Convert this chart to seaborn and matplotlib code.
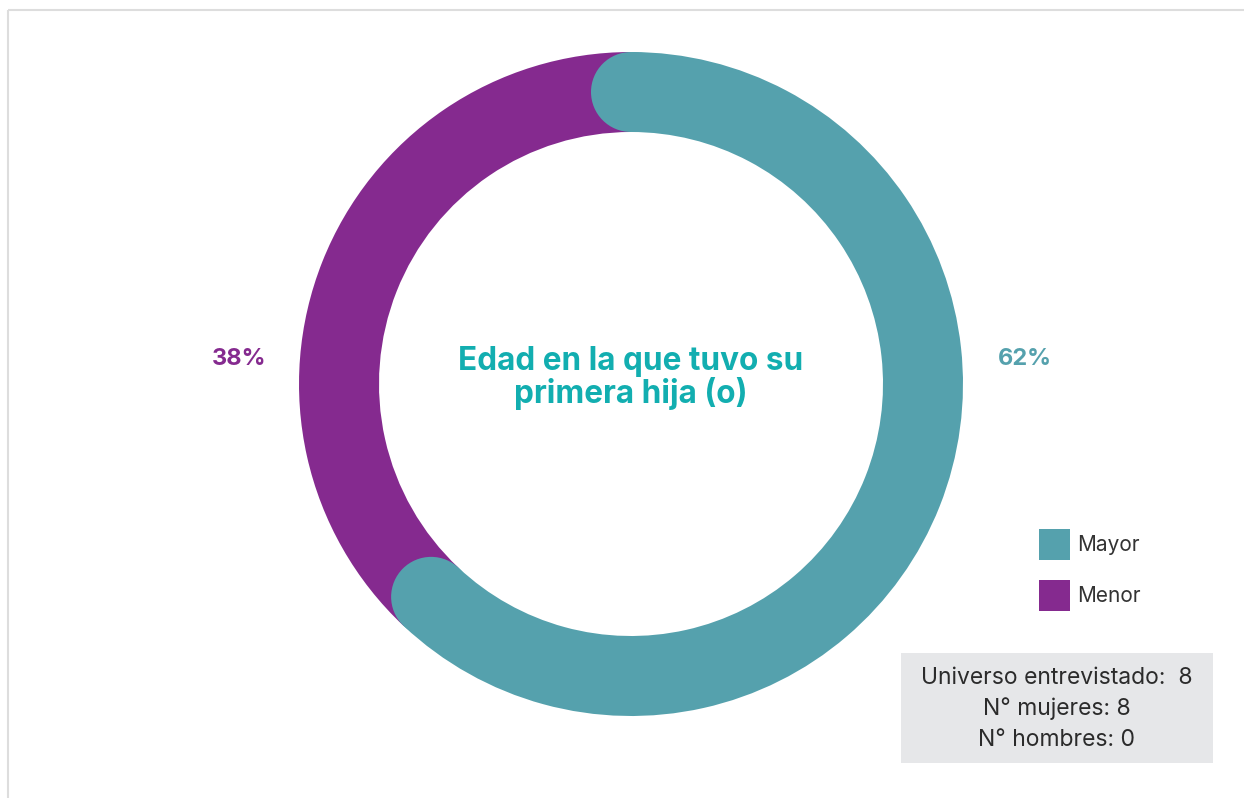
import matplotlib
matplotlib.use('Agg')
import matplotlib.pyplot as plt
from matplotlib.patches import Circle, Rectangle
import seaborn as sns
import numpy as np

# data
categories = ['Mayor', 'Menor']
values = [62, 38]
colors = ['#55a1ad', '#852a8f']
label_colors = ['#55a1ad', '#852a8f']
title_text = 'Edad en la que tuvo su\nprimera hija (o)'
info_lines = ['Universo entrevistado:  8', 'N° mujeres: 8', 'N° hombres: 0']

sns.set_theme(style='white')
plt.rcParams['font.family'] = ['Inter', 'DejaVu Sans']

W, H = 1244, 798
fig = plt.figure(figsize=(W / 100, H / 100), dpi=100)
ax = fig.add_axes([0, 0, 1, 1])

cx, cy = 631, H - 384
r_out, ring = 332, 80

wedges, _ = ax.pie(values, colors=colors, startangle=90, counterclock=False,
                   center=(cx, cy), radius=r_out,
                   wedgeprops=dict(width=ring, linewidth=0))

# rounded caps on the "Mayor" segment, drawn over the "Menor" one
w = wedges[0]
r_mid = r_out - ring / 2
for ang in (w.theta1, w.theta2):
    a = np.deg2rad(ang)
    ax.add_patch(Circle((cx + r_mid * np.cos(a), cy + r_mid * np.sin(a)), ring / 2,
                        color=colors[0], lw=0, zorder=5))

ax.set_xlim(0, W)
ax.set_ylim(0, H)
ax.set_aspect('equal')
ax.axis('off')

# percentage labels
ax.text(cx + 394, cy + 25, f'{values[0]}%', color=label_colors[0], fontsize=17,
        fontweight='bold', ha='center', va='center')
ax.text(cx - 392, cy + 25, f'{values[1]}%', color=label_colors[1], fontsize=17,
        fontweight='bold', ha='center', va='center')

# center title
ax.text(cx, cy + 6, title_text, color='#12aeb0', fontsize=22.7, fontweight='bold',
        ha='center', va='center', linespacing=1.0)

# legend
leg = ax.legend(wedges, categories, loc='upper left', bbox_to_anchor=(1020 / W, 1 - 510 / H),
                frameon=False, fontsize=15, handlelength=1.49, handleheight=1.92,
                handletextpad=0.35, labelspacing=0.96)
for t in leg.get_texts():
    t.set_color('#333333')

# info box
ax.add_patch(Rectangle((901, H - 763), 312, 110, color='#e6e7e9', lw=0, zorder=1))
for i, line in enumerate(info_lines):
    ax.text(1057, H - 678 - 31 * i, line, color='#2b2b2b', fontsize=16.5,
            ha='center', va='center', zorder=2)

# thin frame at top and left
ax.plot([8, W], [H - 10, H - 10], color='#dddddd', lw=1.5, solid_capstyle='butt')
ax.plot([8, 8], [0, H - 10], color='#dddddd', lw=1.5, solid_capstyle='butt')

fig.savefig('out.png', dpi=100)
